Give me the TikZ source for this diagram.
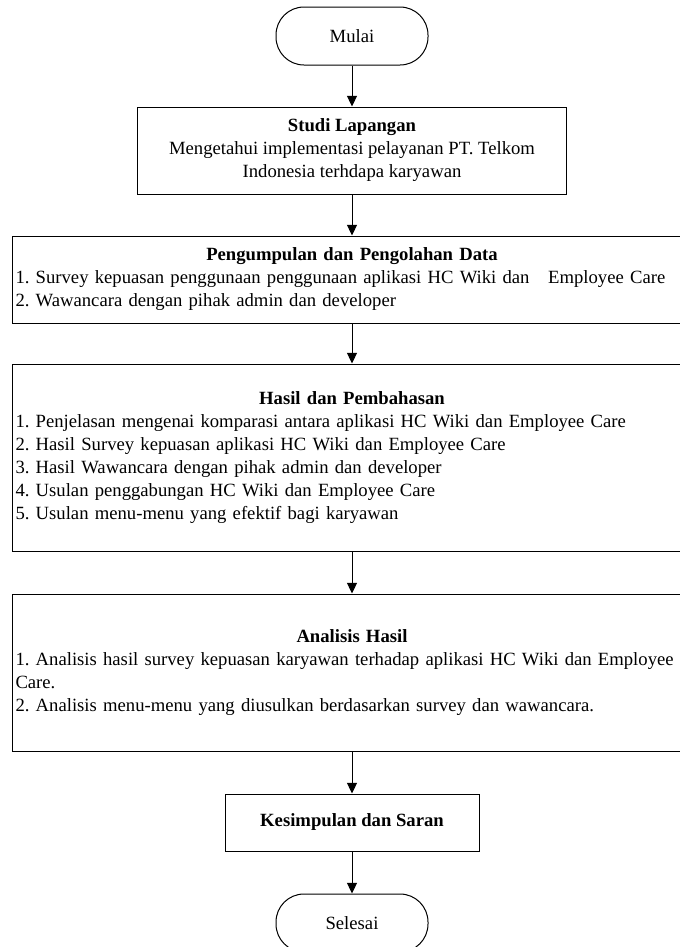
\documentclass[tikz,border=0pt]{standalone}
\usepackage{fontspec}
\setmainfont{Liberation Serif}
\usetikzlibrary{arrows.meta}

\begin{document}
\begin{tikzpicture}[x=0.75pt,y=-0.75pt,>={Triangle[length=8pt,width=7.5pt]},line width=0.75pt,
  every node/.style={font=\fontsize{14}{17.25}\selectfont\frenchspacing},
  terminal/.style={draw,rounded corners=21pt,minimum width=114pt,minimum height=43.5pt},
  prosesbox/.style={draw,inner xsep=2.25pt,inner ysep=0pt}]
\useasboundingbox (0,0) rectangle (680,947);
\node[terminal] (mulai) at (352,36) {Mulai};
\node[prosesbox,minimum width=321.75pt,minimum height=65.25pt,align=center] (studi) at (352,150.5) {\textbf{Studi Lapangan}\\Mengetahui implementasi pelayanan PT. Telkom\\Indonesia terhdapa karyawan};
\node[prosesbox,text width=504.75pt,minimum height=65.25pt] (kumpul) at (352,279.5) {{\centering\textbf{Pengumpulan dan Pengolahan Data}\par}\raggedright 1. Survey kepuasan penggunaan penggunaan aplikasi HC Wiki dan\ \ \ Employee Care\\2. Wawancara dengan pihak admin dan developer};
\node[prosesbox,text width=504.75pt,minimum height=140.25pt] (hasil) at (352,457.5) {{\centering\textbf{Hasil dan Pembahasan}\par}\raggedright 1. Penjelasan mengenai komparasi antara aplikasi HC Wiki dan Employee Care\\2. Hasil Survey kepuasan aplikasi HC Wiki dan Employee Care\\3. Hasil Wawancara dengan pihak admin dan developer\\4. Usulan penggabungan HC Wiki dan Employee Care\\5. Usulan menu-menu yang efektif bagi karyawan};
\node[prosesbox,text width=504.75pt,minimum height=117.75pt] (analisis) at (352,672.5) {{\centering\textbf{Analisis Hasil}\par}\raggedright 1. Analisis hasil survey kepuasan karyawan terhadap aplikasi HC Wiki dan Employee\\Care.\\2. Analisis menu-menu yang diusulkan berdasarkan survey dan wawancara.};
\node[prosesbox,minimum width=190.5pt,minimum height=42.75pt] (simpul) at (352,822.5) {\textbf{Kesimpulan dan Saran}};
\node[terminal] (selesai) at (352,923) {Selesai};
\draw[->] (mulai) -- (studi);
\draw[->] (studi) -- (kumpul);
\draw[->] (kumpul) -- (hasil);
\draw[->] (hasil) -- (analisis);
\draw[->] (analisis) -- (simpul);
\draw[->] (simpul) -- (selesai);
\end{tikzpicture}
\end{document}
